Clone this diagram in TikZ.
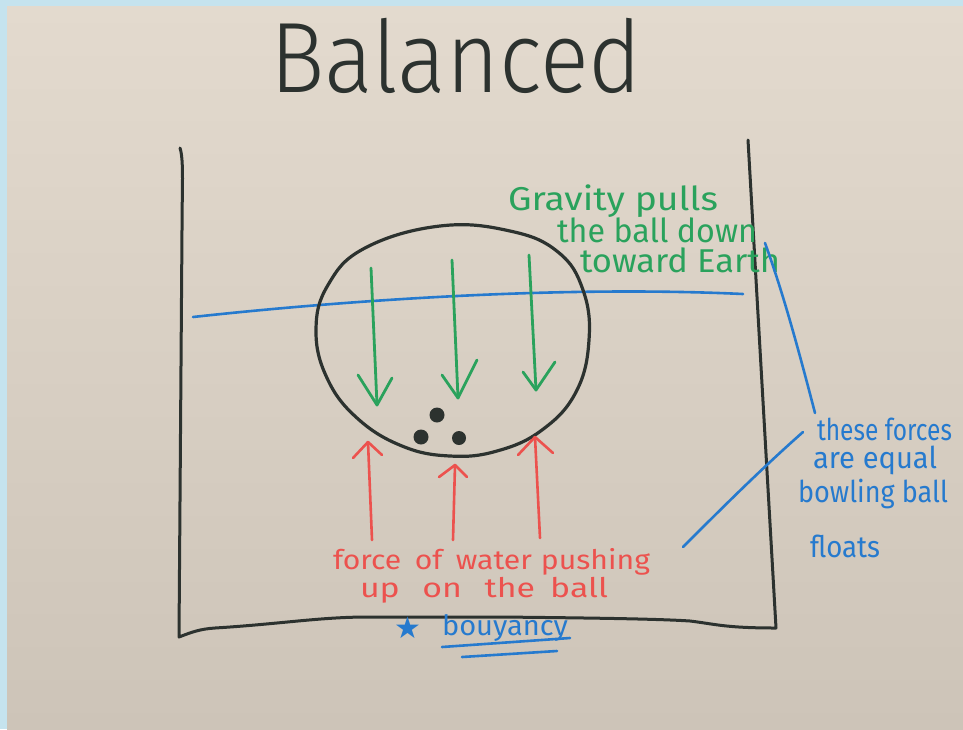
\documentclass[tikz,border=0pt]{standalone}
\usepackage{fontspec}
\usepackage{graphicx}
\setmainfont{Fira Sans}
\IfFontExistsTF{Fira Sans Light}{\newfontfamily\thinfont{Fira Sans Light}}{%
  \IfFontExistsTF{FiraSans-Light.ttf}{\newfontfamily\thinfont{FiraSans-Light.ttf}}{%
    \newfontfamily\thinfont{Fira Sans}}}
\newfontfamily\symfont{DejaVu Sans}
\definecolor{bandc}{RGB}{197,227,238}
\definecolor{paperT}{RGB}{227,218,206}
\definecolor{paperB}{RGB}{205,196,184}
\definecolor{inkc}{RGB}{44,50,47}
\definecolor{grc}{RGB}{42,162,92}
\definecolor{rdc}{RGB}{236,82,78}
\definecolor{blc}{RGB}{38,122,206}
\newsavebox\hwbox
\newlength\hwlen
\newcommand\fitw[2]{\sbox\hwbox{#2}\setlength\hwlen{\wd\hwbox}\pgfmathsetmacro\hwsc{#1/\hwlen}\scalebox{\hwsc}[1]{\usebox\hwbox}}
\tikzset{
  ink/.style={draw=inkc, line width=3pt, line cap=round, line join=round},
  gr/.style={draw=grc, line width=2.8pt, line cap=round, line join=round},
  rd/.style={draw=rdc, line width=2.6pt, line cap=round, line join=round},
  bl/.style={draw=blc, line width=2.6pt, line cap=round, line join=round},
  txt/.style={anchor=base west, inner sep=0pt, outer sep=0pt},
  grtxt/.style={txt, text=grc, font=\fontsize{33}{33}\selectfont},
  rdtxt/.style={txt, text=rdc, font=\fontsize{27}{27}\selectfont},
  bltxt/.style={txt, text=blc, font=\fontsize{30}{30}\selectfont}
}
\begin{document}
\begin{tikzpicture}[x=1pt,y=-1pt]
\useasboundingbox (0,0) rectangle (963,729);
% background
\fill[bandc] (0,0) rectangle (963,729);
\shade[top color=paperT, bottom color=paperB] (7,6) rectangle (963,729);
% title
\node[txt, text=inkc, font=\thinfont\fontsize{100}{100}\selectfont] (title) at (270,92) {\fitw{372}{Balanced}};
% tank
\draw[ink] (180,148) .. controls (184,160) and (182,190) .. (182,230)
  -- (179,637) .. controls (192,632) and (200,629) .. (215,628)
  .. controls (280,624) and (320,617) .. (368,617)
  -- (500,617) .. controls (600,618) and (660,619) .. (690,621)
  .. controls (715,624) and (725,628) .. (776,628)
  -- (748,140);
% water line
\draw[bl] (193,317) .. controls (330,302) and (550,285) .. (743,294);
% ball
\draw[ink, line width=3.2pt] plot[smooth cycle, tension=0.7] coordinates {
  (316,330) (328,285) (365,248) (440,226) (510,231) (558,252) (583,290)
  (589,340) (576,392) (542,430) (497,451) (450,456) (402,446) (357,418) (327,378)};
\fill[inkc] (437,415) circle[radius=7.5pt];
\fill[inkc] (421,437) circle[radius=7.5pt];
\fill[inkc] (459,438) circle[radius=7pt];
% gravity arrows
\coordinate (ga1) at (371,268); \coordinate (gt1) at (377,405);
\draw[gr] (ga1) -- (gt1); \draw[gr] (358,375) -- (gt1) -- (392,378);
\coordinate (ga2) at (452,260); \coordinate (gt2) at (458,398);
\draw[gr] (ga2) -- (gt2); \draw[gr] (442,375) -- (gt2) -- (477,360);
\coordinate (ga3) at (529,255); \coordinate (gt3) at (536,390);
\draw[gr] (ga3) -- (gt3); \draw[gr] (523,372) -- (gt3) -- (555,362);
% buoyancy arrows
\coordinate (ra1) at (372,540); \coordinate (rt1) at (368,442);
\draw[rd] (ra1) -- (rt1); \draw[rd] (353,458) -- (rt1) -- (382,455);
\coordinate (ra2) at (453,540); \coordinate (rt2) at (455,465);
\draw[rd] (ra2) -- (rt2); \draw[rd] (439,477) -- (rt2) -- (467,477);
\coordinate (ra3) at (540,538); \coordinate (rt3) at (535,437);
\draw[rd] (ra3) -- (rt3); \draw[rd] (518,455) -- (rt3) -- (553,453);
% green text
\node[grtxt] (g1) at (508,210) {\fitw{210}{Gravity pulls}};
\node[grtxt] (g2) at (557,242) {\fitw{200}{the ball down}};
\node[grtxt] (g3) at (580,272) {\fitw{200}{toward Earth}};
% red text
\node[rdtxt] (r1) at (333,569) {\fitw{317}{force\hspace{12pt}of\hspace{12pt}water\hspace{8pt}pushing}};
\node[rdtxt] (r2) at (360,597) {\fitw{248}{up\hspace{18pt}on\hspace{18pt}the\hspace{12pt}ball}};
% blue text
\node[bltxt] (b1) at (817,440) {\fitw{135}{these forces}};
\node[bltxt] (b2) at (813,468) {\fitw{124}{are equal}};
\node[bltxt] (b3) at (798,502) {\fitw{150}{bowling ball}};
\node[bltxt] (b4) at (810,557) {\fitw{70}{floats}};
% pointer lines
\coordinate (p1) at (765,243);
\coordinate (p2) at (815,413);
\draw[bl] (p1) .. controls (782,290) and (796,340) .. (p2);
\coordinate (p3) at (803,432);
\coordinate (p4) at (683,547);
\draw[bl] (p3) .. controls (760,470) and (720,510) .. (p4);
% buoyancy label
\node[text=blc, font=\symfont\fontsize{30}{30}\selectfont, inner sep=0pt] (star) at (408,628) {★};
\node[txt, text=blc, font=\fontsize{28}{28}\selectfont] (buoy) at (442,635) {\fitw{126}{bouyancy}};
\draw[bl] (442,647) -- (570,638);
\draw[bl] (462,657) -- (557,651);
\end{tikzpicture}
\end{document}
